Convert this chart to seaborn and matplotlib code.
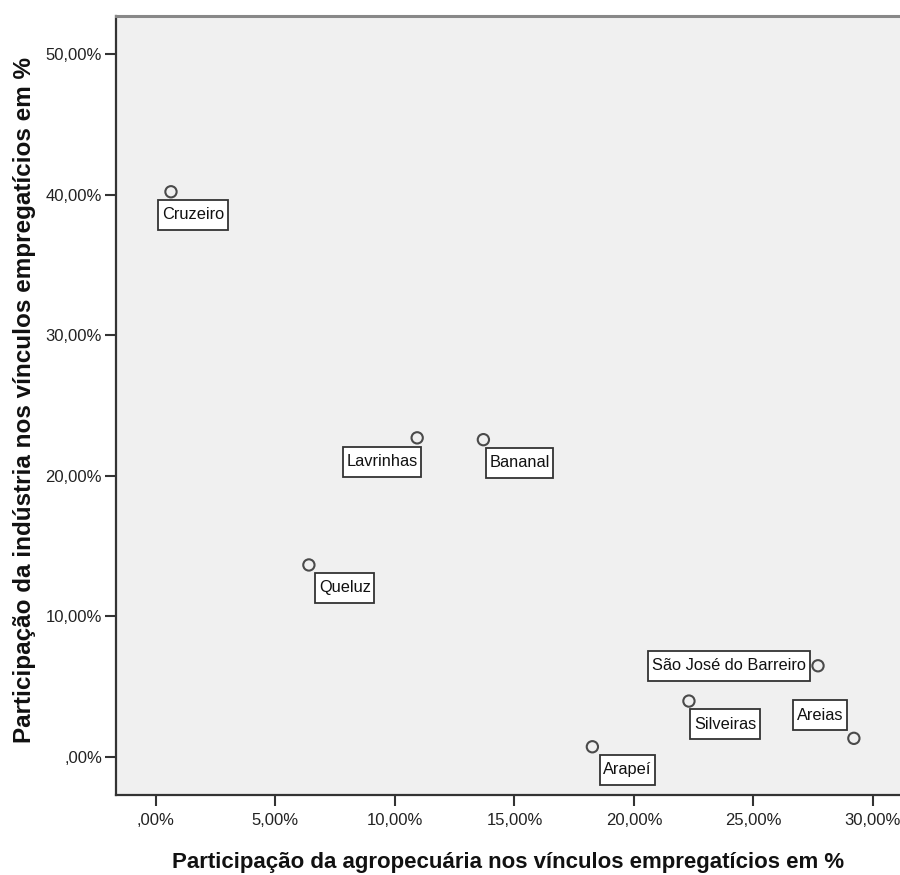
import numpy as np
import pandas as pd
import matplotlib
matplotlib.use("Agg")
import matplotlib.pyplot as plt
from matplotlib.path import Path
import seaborn as sns

# ── Data ──────────────────────────────────────────────────────────────────────
MUNICIPIOS = [
    "Cruzeiro",
    "Lavrinhas",
    "Bananal",
    "Queluz",
    "São José do Barreiro",
    "Silveiras",
    "Areias",
    "Arapeí",
]
AGROPECUARIA = [0.63, 10.93, 13.70, 6.40, 27.70, 22.30, 29.20, 18.26]
INDUSTRIA    = [40.20, 22.70, 22.57, 13.66, 6.49, 3.98, 1.33, 0.73]

X_TICKS = [0, 5, 10, 15, 20, 25, 30]
Y_TICKS = [0, 10, 20, 30, 40, 50]

X_LABEL = "Participação da agropecuária nos vínculos empregatícios em %"
Y_LABEL = "Participação da indústria nos vínculos empregatícios em %"

# label box placement relative to its point, in pixels (right, down)
LABEL_OFFSETS_PX = {
    "Cruzeiro": (22, 23),
    "Lavrinhas": (-35, 24),
    "Bananal": (36, 23),
    "Queluz": (36, 23),
    "São José do Barreiro": (-89, 0),
    "Silveiras": (36, 23),
    "Areias": (-34, -23),
    "Arapeí": (35, 23),
}


def pct_label(v):
    s = f"{v:.2f}".replace(".", ",")
    if s.startswith("0,"):
        s = s[1:]
    return s + "%"


def spss_box(x0, y0, width, height, mutation_size):
    # SPSS label boxes: tight left/right, roomier top/bottom
    px, py = 0.22 * mutation_size, 0.45 * mutation_size
    x0, y0 = x0 - px, y0 - py
    x1, y1 = x0 + width + 2 * px, y0 + height + 2 * py
    return Path([(x0, y0), (x1, y0), (x1, y1), (x0, y1), (x0, y0)], closed=True)


df = pd.DataFrame({"municipio": MUNICIPIOS, "agro": AGROPECUARIA, "ind": INDUSTRIA})

# ── Plot ───────────────────────────────────────────────────────────────────────
sns.set_theme(style="ticks")
plt.rcParams["font.family"] = ["Liberation Sans", "DejaVu Sans"]

DPI = 100
fig = plt.figure(figsize=(9, 8.75), dpi=DPI)
ax = fig.add_axes([116 / 900, 80 / 875, 1 - 116 / 900, (795 - 16) / 875])
ax.set_facecolor("#f0f0f0")

sns.scatterplot(
    data=df, x="agro", y="ind", ax=ax,
    marker="o", s=66, facecolors="none", edgecolor="#4a4a4a", linewidth=1.5,
)

px2pt = 72 / DPI
for name, x, y in zip(df["municipio"], df["agro"], df["ind"]):
    dx, dy = LABEL_OFFSETS_PX[name]
    ax.annotate(
        name, (x, y), xytext=(dx * px2pt, -dy * px2pt), textcoords="offset points",
        ha="center", va="center", fontsize=11.8, color="#111111",
        bbox=dict(boxstyle=spss_box, fc="white", ec="#333333", lw=1.3),
    )

ax.set_xlim(-1.67, 31.13)
ax.set_ylim(-2.70, 52.70)
ax.set_xticks(X_TICKS)
ax.set_xticklabels([pct_label(v) for v in X_TICKS])
ax.set_yticks(Y_TICKS)
ax.set_yticklabels([pct_label(v) for v in Y_TICKS])
ax.tick_params(axis="both", length=8, width=1.5, color="#333333",
               labelsize=12, labelcolor="#222222")
ax.tick_params(axis="x", pad=5)
ax.tick_params(axis="y", pad=2)

for side in ("left", "bottom"):
    ax.spines[side].set_color("#333333")
    ax.spines[side].set_linewidth(1.6)
ax.spines["top"].set_color("#888888")
ax.spines["top"].set_linewidth(2.2)
ax.spines["right"].set_visible(False)

ax.set_xlabel(X_LABEL, fontsize=16, fontweight="bold", color="#111111")
ax.set_ylabel(Y_LABEL, fontsize=17.5, fontweight="bold", color="#111111")
ax.xaxis.set_label_coords((508 - 116) / 784, (795 - 852) / 779)
ax.yaxis.set_label_coords((36 - 116) / 784, (795 - 400) / 779)

fig.savefig("out.png", dpi=DPI)
plt.close(fig)
